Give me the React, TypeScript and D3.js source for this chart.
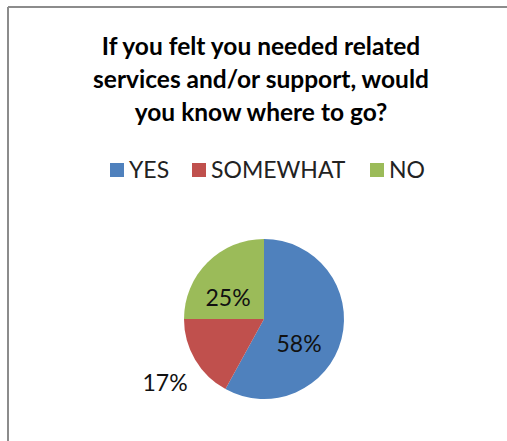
import React from "react";
import * as d3 from "d3";

const categories = ["YES", "SOMEWHAT", "NO"];
const values = [58, 17, 25];
const colors = ["#4F81BD", "#C0504D", "#9BBB59"];
const titleLines = [
  "If you felt you needed related",
  "services and/or support, would",
  "you know where to go?",
];

const W = 507;
const H = 441;

export default function App() {
  const cx = 264;
  const cy = 319;
  const r = 80;
  const pie = d3.pie<number>().sort(null).value((d) => d)(values);
  const arc = d3.arc<d3.PieArcDatum<number>>().innerRadius(0).outerRadius(r);
  const labelPos: [number, number][] = [
    [35, 24],
    [-99, 63],
    [-36, -22],
  ];
  const font = "Lato, 'Open Sans', sans-serif";
  const legendX = [110, 192, 370];
  return (
    <svg
      width={W}
      height={H}
      style={{ position: "absolute", left: 0, top: 0, background: "#fff" }}
      fontFamily={font}
    >
      <line x1={8} y1={7} x2={W} y2={7} stroke="#8c8c8c" strokeWidth={2} />
      <line x1={8} y1={7} x2={8} y2={H} stroke="#8c8c8c" strokeWidth={2} />
      {titleLines.map((t, i) => (
        <text
          key={i}
          x={261}
          y={55 + i * 33}
          textAnchor="middle"
          fontWeight="bold"
          fontSize={24.5}
          fill="#000"
        >
          {t}
        </text>
      ))}
      {categories.map((c, i) => (
        <g key={c}>
          <rect x={legendX[i]} y={163} width={14} height={14} fill={colors[i]} />
          <text x={legendX[i] + 19} y={178} fontSize={23} fill="#222">
            {c}
          </text>
        </g>
      ))}
      <g transform={`translate(${cx},${cy})`}>
        {pie.map((p, i) => (
          <path key={i} d={arc(p) || ""} fill={colors[i]} />
        ))}
        {pie.map((p, i) => (
          <text
            key={"l" + i}
            x={labelPos[i][0]}
            y={labelPos[i][1]}
            textAnchor="middle"
            dominantBaseline="central"
            fontSize={23}
            fill="#111"
          >
            {values[i]}%
          </text>
        ))}
      </g>
    </svg>
  );
}
